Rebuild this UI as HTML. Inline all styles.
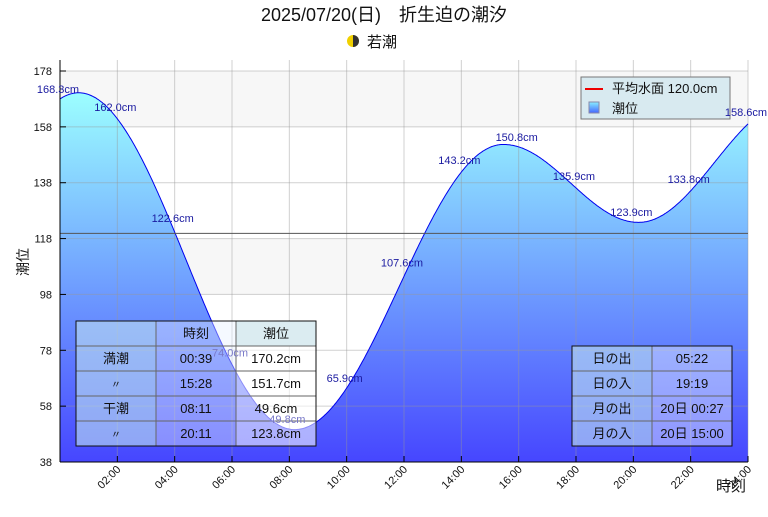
<!DOCTYPE html>
<html><head><meta charset="utf-8"><style>
body{margin:0;background:#fff;width:768px;height:512px;overflow:hidden;font-family:"Liberation Sans","Noto Sans CJK JP",sans-serif}
svg text{font-family:"Liberation Sans","Noto Sans CJK JP",sans-serif}
</style></head><body>
<svg id="s" width="768" height="512" xmlns="http://www.w3.org/2000/svg">
<defs>
<linearGradient id="g" x1="0" y1="92" x2="0" y2="462" gradientUnits="userSpaceOnUse">
<stop offset="0" stop-color="#9cffff"/><stop offset="1" stop-color="#4646ff"/></linearGradient>
<linearGradient id="lg" x1="0" y1="0" x2="0" y2="1"><stop offset="0" stop-color="#8ef"/><stop offset="1" stop-color="#46f"/></linearGradient>
</defs>
<text x="384" y="21" font-size="18" text-anchor="middle" fill="#111">2025/07/20(日)　折生迫の潮汐</text>
<circle cx="353" cy="41" r="6" fill="#f0d000"/><path d="M353,35 A6,6 0 0 1 353,47 Z" fill="#333"/>
<text x="367" y="47" font-size="15" fill="#111">若潮</text>
<g id="bg"></g>
<path id="area" fill="url(#g)" stroke="none"/>
<g id="grid"></g>
<path id="line" fill="none" stroke="#0000ee" stroke-width="1"/>
<line x1="60" y1="233.4" x2="748" y2="233.4" stroke="#555" stroke-width="1"/>
<line x1="60" y1="60" x2="60" y2="462" stroke="#000"/>
<line x1="60" y1="462" x2="748" y2="462" stroke="#000"/>
<g id="ax" font-size="11" fill="#111"></g>
<text x="28" y="262" font-size="14" transform="rotate(-90 28 262)" text-anchor="middle" fill="#111">潮位</text>
<text x="716" y="491" font-size="15" fill="#111">時刻</text>
<rect x="581" y="77" width="149" height="42" fill="#d8eaf0" stroke="#777"/>
<line x1="585" y1="89" x2="603" y2="89" stroke="#e00" stroke-width="2"/>
<text x="612" y="93" font-size="13" fill="#111">平均水面 120.0cm</text>
<rect x="589" y="102" width="10" height="11" fill="url(#lg)" stroke="#88a"/>
<text x="612" y="113" font-size="13" fill="#111">潮位</text>
<g font-size="13" fill="#111" text-anchor="middle">
<rect x="76" y="321" width="80" height="125" fill="rgba(190,225,240,0.6)"/>
<rect x="156" y="321" width="80" height="125" fill="rgba(230,240,255,0.4)"/>
<rect x="236" y="321" width="80" height="25" fill="#dbecf1"/>
<rect x="236" y="346" width="80" height="100" fill="rgba(255,255,255,0.55)"/>
<path d="M76,346H316M76,371H316M76,396H316M76,421H316M156,321V446M236,321V446" stroke="#666" fill="none"/>
<rect x="76" y="321" width="240" height="125" fill="none" stroke="#111"/>
<text x="196" y="338">時刻</text><text x="276" y="338">潮位</text>
<text x="116" y="363">満潮</text><text x="196" y="363">00:39</text><text x="276" y="363">170.2cm</text>
<text x="116" y="388" font-size="10">〃</text><text x="196" y="388">15:28</text><text x="276" y="388">151.7cm</text>
<text x="116" y="413">干潮</text><text x="196" y="413">08:11</text><text x="276" y="413">49.6cm</text>
<text x="116" y="438" font-size="10">〃</text><text x="196" y="438">20:11</text><text x="276" y="438">123.8cm</text>
<rect x="572" y="346" width="80" height="100" fill="rgba(190,225,240,0.6)"/>
<rect x="652" y="346" width="80" height="100" fill="rgba(230,240,255,0.45)"/>
<path d="M572,371H732M572,396H732M572,421H732M652,346V446" stroke="#666" fill="none"/>
<rect x="572" y="346" width="160" height="100" fill="none" stroke="#111"/>
<text x="612" y="363">日の出</text><text x="692" y="363">05:22</text>
<text x="612" y="388">日の入</text><text x="692" y="388">19:19</text>
<text x="612" y="413">月の出</text><text x="692" y="413">20日 00:27</text>
<text x="612" y="438">月の入</text><text x="692" y="438">20日 15:00</text>
</g>
<g id="lbl" font-size="11"></g>
</svg>
<script>
var X=function(t){return 60+t*688/24},Y=function(h){return 462-(h-38)*391/140};
var ex=[[0.65,170.2],[8.183,49.6],[15.467,151.7],[20.183,123.8],[25.5,167]];
function H(t){var i=0;while(i<ex.length-2&&t>ex[i+1][0])i++;var a=ex[i],b=ex[i+1];var m=(a[1]+b[1])/2,am=(a[1]-b[1])/2;return m+am*Math.cos(Math.PI*(t-a[0])/(b[0]-a[0]));}
var d="",ns="http://www.w3.org/2000/svg";
for(var k=0;k<=688;k++){var t=k*24/688;d+=(k?"L":"M")+X(t).toFixed(1)+","+Y(H(t)).toFixed(1);}
document.getElementById("line").setAttribute("d",d);
document.getElementById("area").setAttribute("d",d+"L748,462L60,462Z");
function el(p,n,a,tx){var e=document.createElementNS(ns,n);for(var k in a)e.setAttribute(k,a[k]);if(tx)e.textContent=tx;document.getElementById(p).appendChild(e);}
[[158,178],[98,118]].forEach(function(b){el("bg","rect",{x:60,y:Y(b[1]),width:688,height:Y(b[0])-Y(b[1]),fill:"#f7f7f7"});});
for(var h=1;h<=12;h++){var x=X(h*2);el("grid","line",{x1:x,y1:60,x2:x,y2:462,stroke:"rgba(150,150,150,0.45)"});el("ax","line",{x1:x,y1:462,x2:x,y2:456,stroke:"#000"});
var s=("0"+(h*2)).slice(-2)+":00";el("ax","text",{x:x+4,y:470,"text-anchor":"end",transform:"rotate(-45 "+(x+4)+" 470)"},s);}
for(var v=38;v<=178;v+=20){var y=Y(v);el("grid","line",{x1:60,y1:y,x2:748,y2:y,stroke:"rgba(150,150,150,0.45)"});el("ax","line",{x1:60,y1:y,x2:66,y2:y,stroke:"#000"});el("ax","text",{x:52,y:y+4,"text-anchor":"end"},""+v);}
var L=["168.3","162.0","122.6","74.0","49.8","65.9","107.6","143.2","150.8","135.9","123.9","133.8","158.6"];
var off=[6,8,10,8,6,6,10,8,6,8,6,8,8];
L.forEach(function(s,i){var t=i*2,y=Y(H(t))-off[i];var c=(i==3||i==4)?"#7878c8":"#1a1aa0";el("lbl","text",{x:X(t)-2,y:y,"text-anchor":"middle",fill:c},s+"cm");});
</script>
</body></html>
